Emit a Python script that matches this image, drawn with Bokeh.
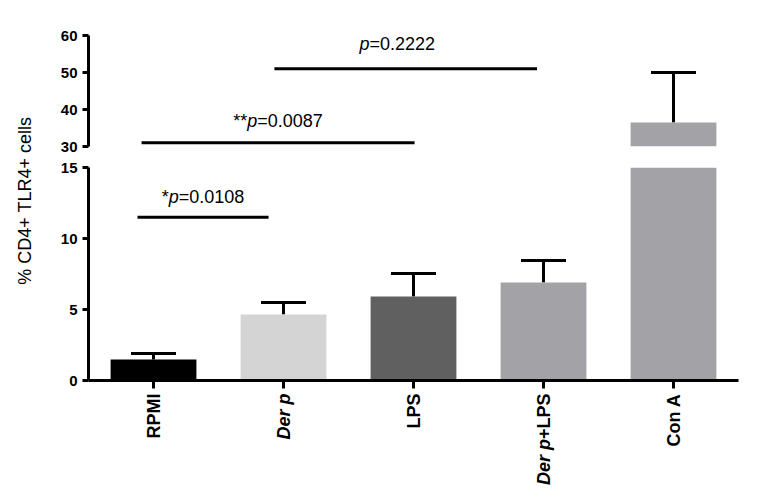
import math
from bokeh.plotting import figure
from bokeh.models import (FactorRange, Range1d, FixedTicker, ColumnDataSource,
                          Whisker, TeeHead, Label, Div)
from bokeh.layouts import row, column
from bokeh.embed import file_html
from bokeh.resources import INLINE

# ---------------- data ----------------
categories = ["RPMI", "Der p", "LPS", "Der p+LPS", "Con A"]
means = [1.48, 4.65, 5.92, 6.90, 36.5]
sems = [0.42, 0.84, 1.62, 1.55, 13.5]
lower_ticks = [0, 5, 10, 15]
upper_ticks = [30, 40, 50, 60]
comp_pairs = [("RPMI", "Der p"), ("RPMI", "LPS"), ("Der p", "Der p+LPS")]
comp_stars = ["*", "**", ""]
comp_p = ["0.0108", "0.0087", "0.2222"]
y_title = "% CD4+ TLR4+ cells"
# tick-label pieces: (text, italic?)
x_label_parts = {"RPMI": [("RPMI", False)],
                 "Der p": [("Der p", True)],
                 "LPS": [("LPS", False)],
                 "Der p+LPS": [("Der p", True), ("+LPS", False)],
                 "Con A": [("Con A", False)]}

# ---------------- styling ----------------
colors = ["#000000", "#d4d4d4", "#606060", "#a3a2a7", "#a3a2a7"]
FONT = "Liberation Sans"
LOWER = (0, 15)
UPPER = (30, 60)
bracket_levels = [11.5, 31.0, 51.0]
bracket_start_off = [-0.123, -0.092, -0.07]
bracket_end_off = [-0.115, 0.008, -0.05]
text_levels = [12.89, 37.0, 57.8]
text_shift = [0.0, 0.0, -0.065]

ARIAL_W = {'*': 0.389, 'p': 0.556, '=': 0.584, '.': 0.278, '+': 0.584,
           'L': 0.611, 'P': 0.667, 'S': 0.667, 'D': 0.722, 'e': 0.556,
           'r': 0.389, ' ': 0.278}
for d in "0123456789":
    ARIAL_W[d] = 0.556


def text_w(s, size):
    return sum(ARIAL_W.get(c, 0.556) for c in s) * size


x_range = FactorRange(factors=categories, range_padding=0, factor_padding=0)
uppers = [m + s for m, s in zip(means, sems)]

FIG_W = 702
ML, MR = 40, 12


def base_fig(yr, h, top, bottom, show_x):
    p = figure(x_range=x_range, y_range=Range1d(*yr), width=FIG_W, height=h,
               output_backend="svg", toolbar_location=None,
               min_border_left=ML, min_border_right=MR,
               min_border_top=top, min_border_bottom=bottom,
               x_axis_location="below" if show_x else None)
    p.xgrid.visible = False
    p.ygrid.visible = False
    p.outline_line_color = None
    p.background_fill_color = "white"
    p.border_fill_color = "white"
    return p


def style_yaxis(p, ticks):
    p.yaxis.ticker = FixedTicker(ticks=ticks)
    p.yaxis.axis_line_width = 3
    p.yaxis.axis_line_color = "black"
    p.yaxis.major_tick_line_width = 3
    p.yaxis.major_tick_line_color = "black"
    p.yaxis.major_tick_out = 6
    p.yaxis.major_tick_in = 0
    p.yaxis.minor_tick_line_color = None
    p.yaxis.major_label_text_font = FONT
    p.yaxis.major_label_text_font_size = "15px"
    p.yaxis.major_label_text_font_style = "bold"
    p.yaxis.major_label_text_color = "black"
    p.yaxis.major_label_standoff = 5


def make_segment(yr, h, top, bottom, show_x):
    p = base_fig(yr, h, top, bottom, show_x)
    style_yaxis(p, lower_ticks if show_x else upper_ticks)
    # bars that reach into this segment
    bi = [i for i in range(len(categories)) if means[i] > yr[0]]
    bsrc = ColumnDataSource(dict(cat=[categories[i] for i in bi],
                                 mean=[means[i] for i in bi],
                                 color=[colors[i] for i in bi]))
    p.vbar(x="cat", top="mean", width=0.66, fill_color="color",
           line_color=None, source=bsrc)
    # error bars lying in this segment
    wi = [i for i in range(len(categories))
          if means[i] >= yr[0] and uppers[i] <= yr[1]]
    wsrc = ColumnDataSource(dict(cat=[categories[i] for i in wi],
                                 mean=[means[i] for i in wi],
                                 upper=[uppers[i] for i in wi]))
    p.add_layout(Whisker(base="cat", lower="mean", upper="upper", source=wsrc,
                         dimension="height", line_width=3, line_color="black",
                         upper_head=TeeHead(size=45, line_width=3,
                                            line_color="black"),
                         lower_head=None))
    # significance brackets in this segment
    for k, (a, b) in enumerate(comp_pairs):
        lvl = bracket_levels[k]
        if not (yr[0] <= lvl <= yr[1]):
            continue
        x0 = categories.index(a) + 0.5 + bracket_start_off[k]
        x1 = categories.index(b) + 0.5 + bracket_end_off[k]
        p.segment(x0=[x0], y0=[lvl], x1=[x1], y1=[lvl], line_width=3,
                  line_color="black")
        xc = (x0 + x1) / 2 + text_shift[k]
        size = 18
        pre = comp_stars[k]
        rest = "=" + comp_p[k]
        total = text_w(pre, size) + text_w("p", size) + text_w(rest, size)
        left = -total / 2
        pieces = []
        if pre:
            pieces.append((pre, "normal", left))
        pieces.append(("p", "italic", left + text_w(pre, size)))
        pieces.append((rest, "normal",
                       left + text_w(pre, size) + text_w("p", size)))
        for txt, st, off in pieces:
            p.add_layout(Label(x=xc, y=text_levels[k], text=txt, x_offset=off,
                               text_font=FONT, text_font_size=f"{size}px",
                               text_font_style=st, text_align="left",
                               text_baseline="middle", text_color="black"))
    if show_x:
        xa = p.xaxis[0]
        xa.axis_line_width = 3
        xa.axis_line_color = "black"
        xa.major_tick_line_width = 3
        xa.major_tick_line_color = "black"
        xa.major_tick_out = 8
        xa.major_tick_in = 0
        # category names are drawn in the strip below (bold / italic parts)
        xa.major_label_text_font_size = "2px"
        xa.major_label_text_color = None
        xa.major_label_standoff = 0
    return p


upper = make_segment(UPPER, 156, 35, 10, False)
lower = make_segment(LOWER, 236, 11, 12, True)

# strip holding the category labels (bold, "Der p" in italics)
XL_H = 106
xlab = figure(x_range=x_range, y_range=Range1d(0, XL_H), width=FIG_W,
              height=XL_H, output_backend="svg", toolbar_location=None,
              min_border_left=ML, min_border_right=MR, min_border_top=0,
              min_border_bottom=0, x_axis_location=None, y_axis_location=None)
xlab.outline_line_color = None
xlab.grid.visible = False
for i, c in enumerate(categories):
    off = -1
    for txt, ital in reversed(x_label_parts[c]):
        xlab.add_layout(Label(x=i + 0.5, y=XL_H, y_offset=off, text=txt,
                              angle=math.pi / 2, text_align="right",
                              text_baseline="middle", text_font=FONT,
                              text_font_size="18px",
                              text_font_style="bold italic" if ital else "bold",
                              text_color="black"))
        off -= text_w(txt, 18)

# y-axis title as rotated HTML text, centred at y = 203 px
title = Div(
    text=(f'<span style="writing-mode: vertical-rl; transform: rotate(180deg); '
          f'display: inline-block; white-space: nowrap; position: relative; '
          f'left: 2px; font-family: \'{FONT}\'; font-size: 18px; '
          f'color: black;">{y_title}</span>'),
    width=48, height=406, margin=0,
    styles={"display": "flex", "align-items": "center",
            "justify-content": "center"})

layout = row(title, column(upper, lower, xlab))
open("out.html", "w").write(file_html(layout, INLINE))
